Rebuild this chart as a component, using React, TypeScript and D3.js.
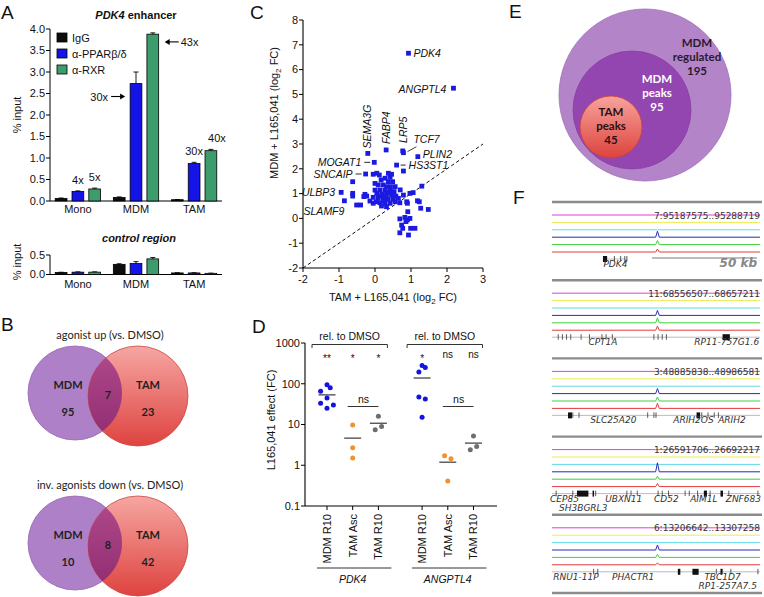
import React from "react";
import * as d3 from "d3";

const FONT = "Liberation Sans, Arial, Helvetica, sans-serif";
const VFONT = "Lato, 'Open Sans', sans-serif";

// ---------- Panel A data ----------
const aGroups = ["Mono", "MDM", "TAM"];
const aSeries = ["IgG", "α-PPARβ/δ", "α-RXR"];
const aColors = ["#0d0d0d", "#1414e6", "#3c9c6c"];
const aEnhancer = [
  [0.06, 0.22, 0.28],
  [0.08, 2.73, 3.88],
  [0.03, 0.87, 1.17],
];
const aEnhancerErr = [
  [0.01, 0.015, 0.02],
  [0.015, 0.27, 0.03],
  [0.005, 0.03, 0.03],
];
const aControl = [
  [0.05, 0.06, 0.06],
  [0.26, 0.28, 0.4],
  [0.04, 0.04, 0.03],
];
const aControlErr = [
  [0.008, 0.008, 0.008],
  [0.015, 0.05, 0.035],
  [0.005, 0.005, 0.005],
];
const aTicks = [0, 0.5, 1, 1.5, 2, 2.5, 3, 3.5, 4];
const aCtrlTicks = [0, 0.5];
const aFolds = [
  { g: 0, s: 1, label: "4x", kind: "above" },
  { g: 0, s: 2, label: "5x", kind: "above" },
  { g: 1, s: 1, label: "30x", kind: "arrowFromLeft", at: 2.43 },
  { g: 1, s: 2, label: "43x", kind: "arrowFromRight", at: 3.7 },
  { g: 2, s: 1, label: "30x", kind: "above" },
  { g: 2, s: 2, label: "40x", kind: "above" },
];

// ---------- Panel B data ----------
const bTitles = ["agonist up (vs. DMSO)", "inv. agonists down (vs. DMSO)"];
const bSets = ["MDM", "TAM"];
const bOnlyMDM = [95, 10];
const bShared = [7, 8];
const bOnlyTAM = [23, 42];

// ---------- Panel C data ----------
const cTicksX = [-2, -1, 0, 1, 2, 3];
const cTicksY = [-2, -1, 0, 1, 2, 3, 4, 5, 6, 7, 8];
const cPointsX = [
  -0.05, 0.05, 0.12, 0.37, 0.46, 0.42, 0.28, 0.17, 0.37, 0.49, 0.0, 0.09, 0.23, 0.32, 0.43, 0.56,
  0.0, 0.14, 0.28, 0.42, 0.53, 0.05, 0.19, 0.32, 0.46, 0.58, -0.05, 0.09, 0.23, 0.37, 0.51, 0.65,
  0.03, 0.14, 0.28, 0.42, 0.56, 0.18, 0.32, 0.69, 0.88, 0.97, 0.79, 0.7, 0.3, 0.1, 0.25, 0.35,
  1.06, 1.18, 1.23, 1.3, 0.9, 1.27, 1.48, 0.91, 0.69, 0.83, 0.9, 0.97, 0.86, 0.74, 0.77, 0.99,
  1.11, 0.69, 0.93, 0.79, -0.62, -0.62, -0.62, -0.51, -0.4, -0.28, -0.23, -0.31, -0.14, -0.05,
];
const cPointsY = [
  1.78, 1.82, 1.75, 1.82, 1.78, 1.66, 1.62, 1.55, 1.48, 1.48, 1.41, 1.35, 1.35, 1.28, 1.28, 1.28,
  1.14, 1.14, 1.14, 1.12, 1.08, 1.01, 0.98, 0.97, 0.94, 0.9, 0.85, 0.81, 0.81, 0.77, 0.77, 0.81,
  0.67, 0.63, 0.61, 0.61, 0.67, 0.5, 0.47, 0.63, 0.67, 1.01, 0.94, 1.15, 0.88, 0.9, 0.72, 1.05,
  1.04, 0.71, 0.67, 1.3, 0.61, 0.41, 0.36, 0.27, -0.02, 0.04, -0.06, 0.0, -0.13, -0.27, -0.4, -0.4,
  -0.4, -0.58, -0.67, 1.91, 1.48, 1.01, 0.9, 0.54, 0.54, 0.97, 0.9, 0.88, 0.7, 0.61,
];
const cGenes = ["PDK4", "ANGPTL4", "SEMA3G", "FABP4", "LRP5", "TCF7", "PLIN2", "MOGAT1", "HS3ST1", "SNCAIP", "ULBP3", "SLAMF9"];
const cGeneX = [0.93, 2.18, -0.2, 0.31, 0.77, 0.79, 1.19, -0.02, 0.6, -0.26, -0.94, -0.85];
const cGeneY = [6.66, 5.25, 2.62, 2.76, 2.72, 2.65, 2.49, 2.26, 2.15, 1.79, 1.05, 0.71];

// ---------- Panel D data ----------
const dCats = ["MDM R10", "TAM Asc", "TAM R10", "MDM R10", "TAM Asc", "TAM R10"];
const dGenes = ["PDK4", "ANGPTL4"];
const dCatColors = ["#1414e0", "#f0922e", "#6e6e6e", "#1414e0", "#f0922e", "#6e6e6e"];
const dValues = [
  [95, 65, 80, 45, 33, 30, 25],
  [9.7, 2.7, 1.5],
  [16, 8.9, 7.4],
  [280, 193, 252, 47, 42, 15],
  [1.72, 1.44, 0.41],
  [5.2, 2.4, 2.9],
];
const dJitter = [
  [0, -2, 1, 0, -2, 2, 0],
  [0, 0, 0],
  [0, 1, -1],
  [0, -1, 1, -1, 1, 0],
  [-1, 1, 0],
  [0, -1, 1],
];
const dStars = ["**", "*", "*", "*", "ns", "ns"];
const dTicks = [0.1, 1, 10, 100, 1000];

// ---------- Panel E data ----------
const eSets = [
  { lines: ["MDM", "regulated", "195"] },
  { lines: ["MDM", "peaks", "95"] },
  { lines: ["TAM", "peaks", "45"] },
];

// ---------- Panel F data ----------
const fCoords = [
  "7:95187575..95288719",
  "11:68556507..68657211",
  "3:48885838..48986581",
  "1:26591706..26692217",
  "6:13206642..13307258",
];
const fPeakPos = [0.507, 0.507, 0.507, 0.507, 0.507];
const fPeakBlue = [6, 5, 5, 9, 5];
const fPeakGreen = [4, 5, 4, 3, 3];
const fPeakRed = [3, 4, 5, 3, 2];
const fTrackColors = ["#e23de2", "#ecec52", "#62d8e8", "#2b2bb8", "#3ed03e", "#e33b3b"];
const fGeneSpan = [
  [0.245, 0.36],
  [0.0, 1.0],
  [0.0, 1.0],
  [0.0, 1.0],
  [0.0, 1.0],
];
const fExons = [
  [[0.245, 0.265]],
  [[0.82, 0.855]],
  [[0.077, 0.096], [0.695, 0.712]],
  [[0.12, 0.175], [0.195, 0.2], [0.73, 0.745], [0.81, 0.822]],
  [[0.605, 0.617], [0.675, 0.705], [0.81, 0.815]],
];
const fTicks = [
  [0.3, 0.33, 0.35, 0.36],
  [0.03, 0.05, 0.07, 0.09, 0.14, 0.18, 0.24, 0.26, 0.29, 0.49, 0.51, 0.53, 0.55],
  [0.1, 0.13, 0.46, 0.49, 0.5, 0.72, 0.75, 0.78, 0.8],
  [0.02, 0.1, 0.21, 0.36, 0.38, 0.41, 0.51, 0.53, 0.56, 0.64, 0.66, 0.7, 0.76, 0.85, 0.99],
  [0.2, 0.22, 0.79, 0.82, 0.86, 0.99],
];
const fLabels = [
  [{ t: "PDK4", f: 0.305, r: 0 }],
  [{ t: "CPT1A", f: 0.245, r: 0 }, { t: "RP11-757G1.6", f: 0.84, r: 0 }],
  [{ t: "SLC25A20", f: 0.295, r: 0 }, { t: "ARIH2OS", f: 0.68, r: 0 }, { t: "ARIH2", f: 0.865, r: 0 }],
  [
    { t: "CEP85", f: 0.06, r: 0 },
    { t: "SH3BGRL3", f: 0.15, r: 1 },
    { t: "UBXN11", f: 0.345, r: 0 },
    { t: "CD52", f: 0.55, r: 0 },
    { t: "AIM1L", f: 0.73, r: 0 },
    { t: "ZNF683", f: 0.92, r: 0 },
  ],
  [
    { t: "RNU1-11P", f: 0.115, r: 0 },
    { t: "PHACTR1", f: 0.39, r: 0 },
    { t: "TBC1D7", f: 0.82, r: 0 },
    { t: "RP1-257A7.5", f: 0.845, r: 1 },
  ],
];

// ================= Panels =================
function PanelLabel({ x, y, t }: { x: number; y: number; t: string }) {
  return (
    <text x={x} y={y} fontSize={19} fontFamily={FONT} fill="#111">
      {t}
    </text>
  );
}

function PanelA() {
  const x0 = d3.scaleBand().domain(aGroups).range([50, 222]).paddingInner(0.22).paddingOuter(0.09);
  const x1 = d3.scaleBand().domain(aSeries).range([0, x0.bandwidth()]).paddingInner(0.3);
  const y = d3.scaleLinear().domain([0, 4]).range([201, 29]);
  const yc = d3.scaleLinear().domain([0, 0.5]).range([274.5, 255]);
  const bw = x1.bandwidth();
  const bars = (vals: number[][], errs: number[][], sc: d3.ScaleLinear<number, number>) =>
    vals.map((row, gi) =>
      row.map((v, si) => {
        const bx = (x0(aGroups[gi]) as number) + (x1(aSeries[si]) as number);
        const cx = bx + bw / 2;
        const e = errs[gi][si];
        return (
          <g key={`${gi}-${si}`}>
            <line x1={cx} x2={cx} y1={sc(v - e)} y2={sc(v + e)} stroke="#000" strokeWidth={0.9} />
            <line x1={cx - 2.5} x2={cx + 2.5} y1={sc(v + e)} y2={sc(v + e)} stroke="#000" strokeWidth={0.9} />
            <rect x={bx} y={sc(v)} width={bw} height={sc(0) - sc(v)} fill={aColors[si]} stroke="#000" strokeWidth={0.8} />
          </g>
        );
      })
    );
  const barX = (g: number, s: number) => (x0(aGroups[g]) as number) + (x1(aSeries[s]) as number);
  return (
    <g fontFamily={FONT} fontSize={11} fill="#111">
      <PanelLabel x={1} y={19} t="A" />
      <text x={136} y={19} textAnchor="middle" fontWeight="bold" fontSize={11}>
        <tspan fontStyle="italic">PDK4</tspan> enhancer
      </text>
      {aSeries.map((s, i) => (
        <g key={s}>
          <rect x={57} y={33 + i * 16} width={10} height={9} fill={aColors[i]} stroke="#000" strokeWidth={0.8} />
          <text x={72} y={42 + i * 16} fontSize={11}>{s}</text>
        </g>
      ))}
      <line x1={50} x2={50} y1={y(0)} y2={y(4)} stroke="#000" />
      <line x1={50} x2={222} y1={y(0)} y2={y(0)} stroke="#000" />
      {aTicks.map((t) => (
        <g key={t}>
          <line x1={46} x2={50} y1={y(t)} y2={y(t)} stroke="#000" />
          <text x={45} y={y(t)} dy="0.35em" textAnchor="end" fontSize={11}>{t.toFixed(1)}</text>
        </g>
      ))}
      <text transform={`translate(21,${115}) rotate(-90)`} textAnchor="middle" fontSize={11}>% input</text>
      {bars(aEnhancer, aEnhancerErr, y)}
      {aGroups.map((g) => (
        <text key={g} x={(x0(g) as number) + x0.bandwidth() / 2} y={213} textAnchor="middle" fontSize={11}>{g}</text>
      ))}
      {aFolds.map((f, i) => {
        const bx = barX(f.g, f.s);
        const v = aEnhancer[f.g][f.s] + aEnhancerErr[f.g][f.s];
        if (f.kind === "above") {
          const extra = f.g === 2 && f.s === 2 ? 6 : 0;
          return (
            <text key={i} x={bx + bw / 2 + extra} y={y(v) - 7} textAnchor="middle" fontSize={11}>{f.label}</text>
          );
        }
        const yy = y(f.at as number);
        if (f.kind === "arrowFromLeft") {
          const tip = bx - 5;
          return (
            <g key={i}>
              <line x1={tip - 14} x2={tip - 4} y1={yy} y2={yy} stroke="#000" strokeWidth={1.1} />
              <path d={`M${tip},${yy} L${tip - 5},${yy - 3} L${tip - 5},${yy + 3} Z`} fill="#000" />
              <text x={tip - 17} y={yy + 4} textAnchor="end" fontSize={11}>{f.label}</text>
            </g>
          );
        }
        const tip = bx + bw + 6;
        return (
          <g key={i}>
            <line x1={tip + 4} x2={tip + 14} y1={yy} y2={yy} stroke="#000" strokeWidth={1.1} />
            <path d={`M${tip},${yy} L${tip + 5},${yy - 3} L${tip + 5},${yy + 3} Z`} fill="#000" />
            <text x={tip + 16} y={yy + 4} fontSize={11}>{f.label}</text>
          </g>
        );
      })}
      <text x={139} y={242} textAnchor="middle" fontWeight="bold" fontStyle="italic" fontSize={11}>control region</text>
      <line x1={50} x2={50} y1={yc(0)} y2={yc(0.5)} stroke="#000" />
      <line x1={50} x2={222} y1={yc(0)} y2={yc(0)} stroke="#000" />
      {aCtrlTicks.map((t) => (
        <g key={t}>
          <line x1={46} x2={50} y1={yc(t)} y2={yc(t)} stroke="#000" />
          <text x={45} y={yc(t)} dy="0.35em" textAnchor="end" fontSize={11}>{t.toFixed(1)}</text>
        </g>
      ))}
      <text transform={`translate(21,${262}) rotate(-90)`} textAnchor="middle" fontSize={11}>% input</text>
      {bars(aControl, aControlErr, yc)}
      {aGroups.map((g) => (
        <text key={g} x={(x0(g) as number) + x0.bandwidth() / 2} y={288} textAnchor="middle" fontSize={11}>{g}</text>
      ))}
    </g>
  );
}

function Venn({ idx, cy }: { idx: number; cy: number }) {
  const lx = 75, rx = 138, lr = 47, rr = 50;
  const lcy = cy, rcy = cy + 3;
  const id = `b${idx}`;
  return (
    <g fontFamily={VFONT}>
      <defs>
        <linearGradient id={`${id}red`} x1="0" y1="0" x2="0" y2="1">
          <stop offset="0" stopColor="#f6a6a2" />
          <stop offset="1" stopColor="#de433f" />
        </linearGradient>
        <linearGradient id={`${id}ov`} x1="0" y1="0" x2="0" y2="1">
          <stop offset="0" stopColor="#b04b8d" />
          <stop offset="1" stopColor="#8e2a6e" />
        </linearGradient>
        <clipPath id={`${id}clip`}>
          <circle cx={lx} cy={lcy} r={lr} />
        </clipPath>
      </defs>
      <text x={110} y={cy - 54} textAnchor="middle" fontSize={11} fill="#222">{bTitles[idx]}</text>
      <circle cx={lx} cy={lcy} r={lr} fill="#ad80c8" stroke="#9a6ab5" strokeWidth={0.8} />
      <circle cx={rx} cy={rcy} r={rr} fill={`url(#${id}red)`} stroke="#c94a48" strokeWidth={0.8} />
      <circle cx={rx} cy={rcy} r={rr} fill={`url(#${id}ov)`} clipPath={`url(#${id}clip)`} />
      <g fontWeight="bold" fontSize={11} fill="#222" textAnchor="middle">
        <text x={lx - 7} y={cy - 4}>{bSets[0]}</text>
        <text x={lx - 7} y={cy + 23}>{bOnlyMDM[idx]}</text>
        <text x={108} y={cy + 6}>{bShared[idx]}</text>
        <text x={rx + 10} y={cy - 4}>{bSets[1]}</text>
        <text x={rx + 10} y={cy + 23}>{bOnlyTAM[idx]}</text>
      </g>
    </g>
  );
}

function PanelB() {
  return (
    <g>
      <PanelLabel x={1} y={331} t="B" />
      <Venn idx={0} cy={393} />
      <Venn idx={1} cy={543} />
    </g>
  );
}

function PanelC() {
  const x = d3.scaleLinear().domain([-2, 3]).range([303, 483]);
  const y = d3.scaleLinear().domain([-2, 8]).range([268, 20]);
  const allX = cPointsX.concat(cGeneX);
  const allY = cPointsY.concat(cGeneY);
  const fs = 10.5;
  const lab = (i: number) => {
    const px = x(cGeneX[i]);
    const py = y(cGeneY[i]);
    const g = cGenes[i];
    switch (g) {
      case "PDK4":
        return <text x={px + 5} y={py + 4}>{g}</text>;
      case "ANGPTL4":
        return <text x={px - 7} y={py + 4.5} textAnchor="end">{g}</text>;
      case "SEMA3G":
        return <text transform={`translate(${px + 3.5},${py - 5}) rotate(-90)`}>{g}</text>;
      case "FABP4":
        return <text transform={`translate(${px + 4},${py - 6}) rotate(-90)`}>{g}</text>;
      case "LRP5":
        return <text transform={`translate(${px + 4},${py - 8}) rotate(-90)`}>{g}</text>;
      case "TCF7":
        return (
          <g>
            <line x1={px + 4} y1={py - 1} x2={px + 13} y2={py - 6} stroke="#111" strokeWidth={0.8} />
            <text x={px + 10} y={py - 9.5}>{g}</text>
          </g>
        );
      case "PLIN2":
        return <text x={px + 5} y={py + 1.5}>{g}</text>;
      case "MOGAT1":
      case "SNCAIP":
        return (
          <g>
            <line x1={px - 10} x2={px - 4} y1={py} y2={py} stroke="#111" strokeWidth={0.9} />
            <text x={px - 13} y={py + 3.5} textAnchor="end">{g}</text>
          </g>
        );
      case "HS3ST1":
        return (
          <g>
            <line x1={px + 4} x2={px + 9} y1={py} y2={py} stroke="#111" strokeWidth={0.9} />
            <text x={px + 12} y={py + 4}>{g}</text>
          </g>
        );
      case "ULBP3":
        return <text x={px - 6} y={py + 4} textAnchor="end">{g}</text>;
      case "SLAMF9":
        return <text x={px} y={py + 14} textAnchor="end">{g}</text>;
    }
    return null;
  };
  return (
    <g fontFamily={FONT} fontSize={11} fill="#111">
      <PanelLabel x={250} y={19} t="C" />
      <line x1={x(-2)} y1={y(-2)} x2={x(3)} y2={y(3)} stroke="#111" strokeWidth={1} strokeDasharray="3.5,2.5" />
      {allX.map((v, i) => (
        <rect key={i} x={x(v) - 2.4} y={y(allY[i]) - 2.4} width={4.8} height={4.8} fill="#1a1ae0" />
      ))}
      <line x1={303} x2={303} y1={y(-2)} y2={y(8)} stroke="#000" strokeWidth={1.1} />
      <line x1={303} x2={483} y1={y(-2)} y2={y(-2)} stroke="#000" strokeWidth={1.1} />
      {cTicksY.map((t) => (
        <g key={t}>
          <line x1={299} x2={303} y1={y(t)} y2={y(t)} stroke="#000" />
          <text x={298} y={y(t)} dy="0.35em" textAnchor="end">{t}</text>
        </g>
      ))}
      {cTicksX.map((t) => (
        <g key={t}>
          <line x1={x(t)} x2={x(t)} y1={268} y2={272} stroke="#000" />
          <text x={x(t)} y={283} textAnchor="middle">{t}</text>
        </g>
      ))}
      <text x={393} y={301} textAnchor="middle">
        TAM + L165,041 (log<tspan fontSize={8} dy={3}>2</tspan><tspan dy={-3}> FC)</tspan>
      </text>
      <text transform={`translate(278,${113}) rotate(-90)`} textAnchor="middle">
        MDM + L165,041 (log<tspan fontSize={8} dy={3}>2</tspan><tspan dy={-3}> FC)</tspan>
      </text>
      <g fontStyle="italic" fontSize={fs}>
        {cGenes.map((_, i) => (
          <g key={i}>{lab(i)}</g>
        ))}
      </g>
    </g>
  );
}

function PanelD() {
  const pos = d3.scaleLinear().domain([0, 1]).range([327, 352.7]);
  const idx = [0, 1, 2, 3.7, 4.7, 5.7];
  const cx = (i: number) => pos(idx[i]);
  const y = d3.scaleLog().domain([0.1, 1000]).range([506, 343]);
  return (
    <g fontFamily={FONT} fontSize={11} fill="#111">
      <PanelLabel x={252} y={333} t="D" />
      <line x1={305} x2={305} y1={y(0.1)} y2={y(1000)} stroke="#000" strokeWidth={1.1} />
      <line x1={305} x2={497} y1={y(0.1)} y2={y(0.1)} stroke="#000" strokeWidth={1.1} />
      {dTicks.map((t) => (
        <g key={t}>
          <line x1={301} x2={305} y1={y(t)} y2={y(t)} stroke="#000" />
          <text x={300} y={y(t)} dy="0.35em" textAnchor="end">{t}</text>
        </g>
      ))}
      <text transform={`translate(275,${420}) rotate(-90)`} textAnchor="middle">L165,041 effect (FC)</text>
      {dCats.map((c, i) => (
        <g key={i}>
          <line x1={cx(i)} x2={cx(i)} y1={506} y2={510} stroke="#000" />
          <text transform={`translate(${cx(i) + 4},${514}) rotate(-90)`} textAnchor="end">{c}</text>
        </g>
      ))}
      {dValues.map((vals, i) => {
        const mean = d3.mean(vals) as number;
        return (
          <g key={i}>
            {vals.map((v, j) => (
              <circle key={j} cx={cx(i) + dJitter[i][j] * 3.2} cy={y(v)} r={2.5} fill={dCatColors[i]} />
            ))}
            <line x1={cx(i) - 8.5} x2={cx(i) + 8.5} y1={y(mean)} y2={y(mean)} stroke="#111" strokeWidth={1} />
          </g>
        );
      })}
      {dGenes.map((g, k) => {
        const a = cx(k * 3);
        const b = cx(k * 3 + 2);
        return (
          <g key={g}>
            <path d={`M${a - 15},348 V344.5 H${b + 9} V348`} fill="none" stroke="#333" strokeWidth={1} />
            <text x={(a + b) / 2 - 3} y={340} textAnchor="middle" fontSize={10.5}>rel. to DMSO</text>
            {[0, 1, 2].map((j) => (
              <text key={j} x={cx(k * 3 + j)} y={dStars[k * 3 + j] === "ns" ? 358 : 362} textAnchor="middle" fontSize={10}>
                {dStars[k * 3 + j]}
              </text>
            ))}
            <line x1={cx(k * 3 + 1) - 5} x2={cx(k * 3 + 2)} y1={406.5} y2={406.5} stroke="#333" strokeWidth={1} />
            <text x={(cx(k * 3 + 1) + cx(k * 3 + 2)) / 2 - 2} y={403} textAnchor="middle" fontSize={10.5}>ns</text>
            <line x1={a - 10} x2={b + 13} y1={568} y2={568} stroke="#333" strokeWidth={1} />
            <text x={(a + b) / 2} y={583} textAnchor="middle" fontStyle="italic" fontSize={10.5}>{g}</text>
          </g>
        );
      })}
    </g>
  );
}

function PanelE() {
  const circles = [
    { cx: 645, cy: 95, r: 86 },
    { cx: 632, cy: 110, r: 59 },
    { cx: 611, cy: 127, r: 31 },
  ];
  const textPos = [
    { x: 697, y: 47, fill: "#2a1a30" },
    { x: 657, y: 83, fill: "#ffffff" },
    { x: 611, y: 116, fill: "#2a1010" },
  ];
  return (
    <g fontFamily={VFONT}>
      <defs>
        <linearGradient id="eRed" x1="0" y1="0" x2="0" y2="1">
          <stop offset="0" stopColor="#f7a39d" />
          <stop offset="1" stopColor="#dd433d" />
        </linearGradient>
      </defs>
      <PanelLabel x={509} y={18} t="E" />
      <circle {...circles[0]} fill="#b484c9" stroke="#a070b8" strokeWidth={0.8} />
      <circle {...circles[1]} fill="#9446b0" stroke="#8a3fa5" strokeWidth={0.8} />
      <circle {...circles[2]} fill="url(#eRed)" stroke="#c9403a" strokeWidth={0.8} />
      {eSets.map((s, i) => (
        <text key={i} textAnchor="middle" fontWeight="bold" fontSize={11.5} fill={textPos[i].fill}>
          {s.lines.map((l, j) => (
            <tspan key={j} x={textPos[i].x} y={textPos[i].y + j * 14.2}>{l}</tspan>
          ))}
        </text>
      ))}
    </g>
  );
}

function PanelF() {
  const fx = d3.scaleLinear().domain([0, 1]).range([552, 760]);
  const gy0 = d3.scaleLinear().domain([0, 5]).range([202, 593]);
  return (
    <g fontFamily="'DejaVu Sans', Verdana, sans-serif">
      <PanelLabel x={513} y={204} t="F" />
      {fCoords.map((coord, gi) => {
        const gy = gy0(gi);
        const ty = (k: number) => gy + 13 + k * 7.4;
        const pk = fx(fPeakPos[gi]);
        const spike = (k: number, h: number) =>
          `M${fx(0)},${ty(k)} H${pk - 1.8} L${pk},${ty(k) - h} L${pk + 1.8},${ty(k)} H${fx(1)}`;
        const geneY = gy + 57;
        return (
          <g key={gi}>
            <line x1={552} x2={762} y1={gy} y2={gy} stroke="#8c8c8c" strokeWidth={2.4} />
            {fTrackColors.map((c, k) => {
              const h = k === 3 ? fPeakBlue[gi] : k === 4 ? fPeakGreen[gi] : k === 5 ? fPeakRed[gi] : 0;
              return <path key={k} d={spike(k, h)} fill="none" stroke={c} strokeWidth={1} />;
            })}
            <text x={760} y={ty(0) + 3.5} textAnchor="end" fontSize={9} fill="#333">{coord}</text>
            <line x1={fx(fGeneSpan[gi][0])} x2={fx(fGeneSpan[gi][1])} y1={geneY} y2={geneY} stroke="#aaa" strokeWidth={0.8} />
            {fTicks[gi].map((t, j) => (
              <line key={j} x1={fx(t)} x2={fx(t)} y1={geneY - 3} y2={geneY + 2.5} stroke="#333" strokeWidth={0.8} />
            ))}
            {fExons[gi].map((e, j) => (
              <rect key={j} x={fx(e[0])} y={geneY - 3} width={Math.max(1.5, fx(e[1]) - fx(e[0]))} height={6} fill="#111" />
            ))}
            {fLabels[gi].map((l, j) => (
              <text key={j} x={fx(l.f)} y={geneY + 8 + l.r * 9.5} textAnchor="middle" fontStyle="italic" fontSize={9} fill="#333">
                {l.t}
              </text>
            ))}
            {gi === 0 && (
              <g>
                <line x1={652} x2={757} y1={258} y2={258} stroke="#555" strokeWidth={0.8} />
                <text x={757} y={267} textAnchor="end" fontStyle="italic" fontWeight="bold" fontSize={12} fill="#888">50 kb</text>
              </g>
            )}
          </g>
        );
      })}
      <line x1={552} x2={762} y1={gy0(5)} y2={gy0(5)} stroke="#8c8c8c" strokeWidth={2.4} />
    </g>
  );
}

export default function App() {
  return (
    <svg
      width={764}
      height={597}
      viewBox="0 0 764 597"
      style={{ position: "absolute", left: 0, top: 0, background: "#fff", display: "block" }}
    >
      <rect width={764} height={597} fill="#fff" />
      <PanelA />
      <PanelB />
      <PanelC />
      <PanelD />
      <PanelE />
      <PanelF />
    </svg>
  );
}
